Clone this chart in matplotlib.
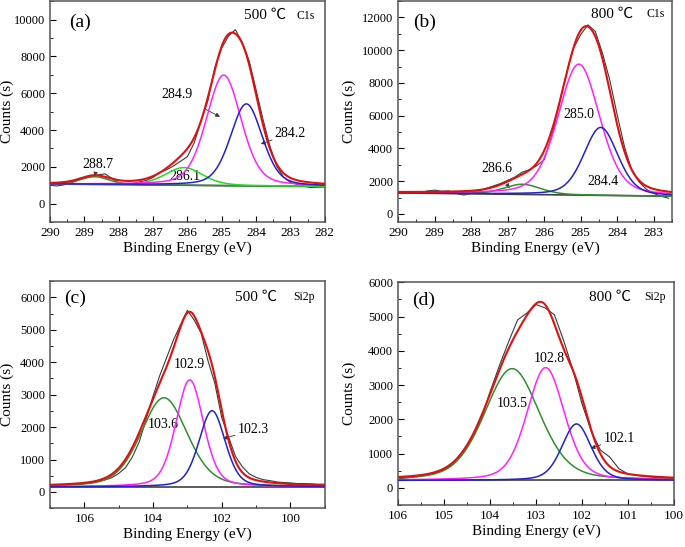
import numpy as np
import matplotlib.pyplot as plt
from matplotlib.ticker import MultipleLocator

plt.rcParams['font.family'] = ['Liberation Serif', 'DejaVu Serif']
plt.rcParams['font.size'] = 10

a_energy = np.linspace(290, 282, 41)
a_counts = [1000, 960, 1020, 1120, 1260, 1400, 1480, 1560, 1620, 1380,
            1120, 1060, 1090, 1180, 1260, 1420, 1700, 1850, 2050, 2300,
            2550, 3300, 4500, 5600, 7400, 8450, 9100, 9450, 8750, 7750,
            6200, 4600, 3150, 2050, 1450, 1150, 1050, 950, 880, 900, 920]

b_energy = np.linspace(290, 282.6, 38)
b_counts = [1250, 1300, 1350, 1300, 1400, 1450, 1380, 1400, 1250, 1150,
            1250, 1400, 1550, 1700, 1850, 2050, 2250, 2550, 2700, 2950,
            3300, 4700, 6600, 8450, 10100, 10950, 11550, 11150, 9800, 8150,
            6050, 4100, 2650, 1950, 1500, 1250, 1080, 960]

c_energy = np.linspace(107, 99, 41)
c_counts = [200, 210, 220, 230, 240, 260, 290, 330, 370, 440,
            570, 750, 1080, 1550, 2250, 2950, 3600, 4150, 4700, 5150,
            5600, 5300, 4900, 4050, 3350, 2300, 1700, 1100, 780, 560,
            450, 380, 350, 310, 290, 280, 260, 260, 250, 240, 240]

d_energy = np.linspace(106, 100, 31)
d_counts = [260, 290, 320, 370, 430, 530, 720, 1050, 1450, 1950,
            2800, 3550, 4250, 4900, 5100, 5350, 5250, 5050, 4300, 3450,
            2450, 1650, 1100, 900, 560, 400, 360, 330, 300, 280, 250]

# ---- fitted components: centre (eV), height above background, FWHM ----
a_centres = [288.7, 286.1, 284.94, 284.28]
a_heights = [420, 960, 6000, 4450]
a_fwhm = [1.0, 1.3, 1.2, 1.1]
a_background = [1065, 930]

b_centres = [286.6, 285.05, 284.45]
b_heights = [620, 8000, 4150]
b_fwhm = [1.2, 1.35, 1.1]
b_background = [1280, 1080]

c_centres = [103.68, 102.93, 102.28]
c_heights = [2750, 3300, 2350]
c_fwhm = [1.6, 0.95, 0.9]
c_background = [155, 155]

d_centres = [103.52, 102.79, 102.12]
d_heights = [3265, 3295, 1650]
d_fwhm = [1.42, 0.96, 0.75]
d_background = [213, 213]

GREEN = '#2f8f2f'
LGREEN = '#22dd22'
MAGENTA = '#ff22ff'
BLUE = '#2222cc'
RED = '#e01010'


def gl_peak(e, centre, height, fwhm, mix=0.3):
    d = 4 * (e - centre) ** 2 / fwhm ** 2
    return height * ((1 - mix) * np.exp(-np.log(2) * d) + mix / (1 + d))


def draw_panel(ax, energy, counts, centres, heights, fwhm, background,
               colours, xlim, ylim, ylab_x):
    e = np.linspace(xlim[0], xlim[1], 600)
    bg = np.interp(e, [xlim[1], xlim[0]], background[::-1])
    ax.plot(energy, counts, color='#3a3a3a', lw=0.8, zorder=2)
    ax.plot(e, bg, color='#404040', lw=1.2, zorder=3)
    total = bg.copy()
    for c, h, w, col in zip(centres, heights, fwhm, colours):
        p = gl_peak(e, c, h, w)
        total += p
        ax.plot(e, bg + p, color=col, lw=1.1, zorder=4)
    ax.plot(e, total, color=RED, lw=1.5, zorder=5)
    ax.set_xlim(*xlim)
    ax.set_ylim(*ylim)
    ax.set_xlabel('Binding Energy (eV)', fontsize=11, labelpad=2)
    ax.set_ylabel('Counts (s)', fontsize=11)
    ax.yaxis.set_label_coords(ylab_x, 0.5)
    ax.tick_params(direction='in', which='both', top=False, right=False)
    ax.tick_params(which='major', length=4)
    ax.tick_params(which='minor', length=2)
    ax.tick_params(axis='x', labelsize=9.5)
    ax.tick_params(axis='y', labelsize=9)
    for s in ax.spines.values():
        s.set_color('#555555')
        s.set_linewidth(1.1)


def label(ax, text, xy, xytext=None):
    if xytext is None:
        ax.text(xy[0], xy[1], text, ha='center', va='center', fontsize=10)
    else:
        ax.annotate(text, xy=xy, xytext=xytext, fontsize=10,
                    ha='center', va='center',
                    arrowprops=dict(arrowstyle='-|>', color='#333333',
                                    lw=0.6, mutation_scale=6,
                                    shrinkA=9, shrinkB=0))


fig = plt.figure(figsize=(6.85, 5.47), dpi=100)
ax_a = fig.add_axes([0.073, 0.594, 0.401, 0.404])
ax_b = fig.add_axes([0.581, 0.594, 0.400, 0.404])
ax_c = fig.add_axes([0.073, 0.071, 0.401, 0.415])
ax_d = fig.add_axes([0.581, 0.077, 0.403, 0.407])

# (a) 500 C, C1s
draw_panel(ax_a, a_energy, a_counts, a_centres, a_heights, a_fwhm,
           a_background, [GREEN, LGREEN, MAGENTA, BLUE], (290, 282),
           (-1000, 11000), -0.13)
ax_a.xaxis.set_major_locator(MultipleLocator(1))
ax_a.xaxis.set_minor_locator(MultipleLocator(0.5))
ax_a.yaxis.set_major_locator(MultipleLocator(2000))
ax_a.yaxis.set_minor_locator(MultipleLocator(1000))
ax_a.text(289.13, 9860, '(a)', fontsize=14, ha='center', va='center')
ax_a.text(283.74, 10200, '500 ℃', fontsize=11, ha='center', va='center',
          family=['Liberation Serif', 'Noto Sans CJK SC'])
ax_a.text(282.55, 10200, 'C1s', fontsize=8.5, ha='center', va='center')
label(ax_a, '288.7', (288.7, 1480), (288.62, 2100))
label(ax_a, '286.1', (286.07, 1480))
label(ax_a, '284.9', (285.05, 4720), (286.3, 5930))
label(ax_a, '284.2', (283.86, 3240), (283.0, 3820))

# (b) 800 C, C1s
draw_panel(ax_b, b_energy, b_counts, b_centres, b_heights, b_fwhm,
           b_background, [GREEN, MAGENTA, BLUE], (290, 282.5),
           (-500, 13000), -0.153)
ax_b.xaxis.set_major_locator(MultipleLocator(1))
ax_b.xaxis.set_minor_locator(MultipleLocator(0.5))
ax_b.yaxis.set_major_locator(MultipleLocator(2000))
ax_b.yaxis.set_minor_locator(MultipleLocator(1000))
ax_b.text(289.26, 11730, '(b)', fontsize=14, ha='center', va='center')
ax_b.text(284.15, 12200, '800 ℃', fontsize=11, ha='center', va='center',
          family=['Liberation Serif', 'Noto Sans CJK SC'])
ax_b.text(282.95, 12200, 'C1s', fontsize=8.5, ha='center', va='center')
label(ax_b, '285.0', (285.04, 6050))
label(ax_b, '284.4', (284.4, 1990))
label(ax_b, '286.6', (286.95, 1580), (287.3, 2800))

# (c) 500 C, Si2p
draw_panel(ax_c, c_energy, c_counts, c_centres, c_heights, c_fwhm,
           c_background, [GREEN, MAGENTA, BLUE], (107, 99),
           (-500, 6500), -0.13)
ax_c.xaxis.set_major_locator(MultipleLocator(2))
ax_c.xaxis.set_minor_locator(MultipleLocator(1))
ax_c.yaxis.set_major_locator(MultipleLocator(1000))
ax_c.yaxis.set_minor_locator(MultipleLocator(500))
ax_c.text(106.27, 5980, '(c)', fontsize=14, ha='center', va='center')
ax_c.text(101.0, 6000, '500 ℃', fontsize=11, ha='center', va='center',
          family=['Liberation Serif', 'Noto Sans CJK SC'])
ax_c.text(99.6, 6000, 'Si2p', fontsize=8.5, ha='center', va='center')
label(ax_c, '102.9', (102.93, 3940))
label(ax_c, '103.6', (103.7, 2070))
label(ax_c, '102.3', (101.96, 1640), (101.08, 1915))

# (d) 800 C, Si2p
draw_panel(ax_d, d_energy, d_counts, d_centres, d_heights, d_fwhm,
           d_background, [GREEN, MAGENTA, BLUE], (106, 100),
           (-500, 6000), -0.152)
ax_d.xaxis.set_major_locator(MultipleLocator(1))
ax_d.xaxis.set_minor_locator(MultipleLocator(0.5))
ax_d.yaxis.set_major_locator(MultipleLocator(1000))
ax_d.yaxis.set_minor_locator(MultipleLocator(500))
ax_d.text(105.45, 5470, '(d)', fontsize=14, ha='center', va='center')
ax_d.text(101.4, 5570, '800 ℃', fontsize=11, ha='center', va='center',
          family=['Liberation Serif', 'Noto Sans CJK SC'])
ax_d.text(100.42, 5570, 'Si2p', fontsize=8.5, ha='center', va='center')
label(ax_d, '102.8', (102.72, 3770))
label(ax_d, '103.5', (103.52, 2460))
label(ax_d, '102.1', (101.81, 1150), (101.19, 1445))

fig.savefig('out.png', dpi=100)
